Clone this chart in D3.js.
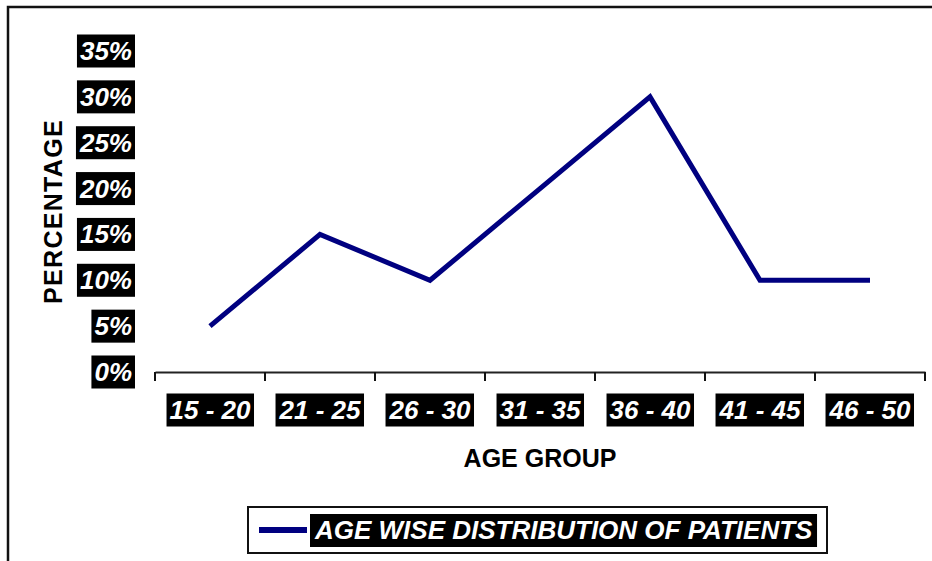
<!DOCTYPE html>
<html><head><meta charset="utf-8">
<script src="https://cdn.jsdelivr.net/npm/d3@7"></script>
<style>body{margin:0;background:#fff}svg{display:block}</style>
</head><body>
<svg id="c" width="932" height="561"></svg>
<script>
const categories = ["15 - 20","21 - 25","26 - 30","31 - 35","36 - 40","41 - 45","46 - 50"];
const values = [0.05, 0.15, 0.10, 0.20, 0.30, 0.10, 0.10];
const yTicks = [0, 0.05, 0.10, 0.15, 0.20, 0.25, 0.30, 0.35];
const seriesName = "AGE WISE DISTRIBUTION OF PATIENTS";
const xTitle = "AGE GROUP";
const yTitle = "PERCENTAGE";

const svg = d3.select("#c");
const FONT = "'Liberation Sans', Arial, sans-serif";

// outer frame
svg.append("rect").attr("x",8).attr("y",7).attr("width",1000).attr("height",1000)
  .attr("fill","none").attr("stroke","#111").attr("stroke-width",2.5);

const x = d3.scaleBand().domain(categories).range([155,925]).padding(0);
const y = d3.scaleLinear().domain([0,0.35]).range([372,51]);

// x axis
const xAxis = d3.axisBottom(x).tickSize(0).tickFormat("");
const gx = svg.append("g").attr("transform","translate(0,372)").call(xAxis);
gx.select(".domain").attr("stroke","#222").attr("stroke-width",2);
const bounds = categories.map(c=>x(c)).concat([x.range()[1]]);
gx.selectAll("line.bt").data(bounds).join("line").attr("class","bt")
  .attr("x1",d=>d).attr("x2",d=>d).attr("y1",0).attr("y2",9)
  .attr("stroke","#111").attr("stroke-width",2);

function boxedLabel(g, text, xPos, yPos, anchor){
  const t = g.append("text").attr("x",xPos).attr("y",yPos)
    .attr("text-anchor",anchor).attr("dominant-baseline","central")
    .attr("font-family",FONT).attr("font-size",26).attr("font-weight","bold")
    .attr("font-style","italic").attr("fill","#fff").text(text);
  const bb = t.node().getBBox();
  g.insert("rect","text").attr("x",bb.x-3).attr("y",yPos-16.5)
    .attr("width",bb.width+6).attr("height",33).attr("fill","#000");
  return t;
}

categories.forEach(c=>{
  boxedLabel(svg.append("g"), c, x(c)+x.bandwidth()/2, 410, "middle");
});

const fmt = d3.format(".0%");
yTicks.forEach(v=>{
  boxedLabel(svg.append("g"), fmt(v), 132, y(v), "end");
});

// axis titles
svg.append("text").attr("x",(x.range()[0]+x.range()[1])/2).attr("y",467)
  .attr("text-anchor","middle").attr("font-family",FONT).attr("font-size",25)
  .attr("font-weight","bold").attr("fill","#000").text(xTitle);
svg.append("text").attr("transform",`translate(62,${(y(0)+y(0.35))/2}) rotate(-90)`)
  .attr("text-anchor","middle").attr("font-family",FONT).attr("font-size",25)
  .attr("font-weight","bold").attr("letter-spacing",1.3).attr("fill","#000").text(yTitle);

// line
const line = d3.line().x((d,i)=>x(categories[i])+x.bandwidth()/2).y(d=>y(d));
svg.append("path").datum(values).attr("d",line).attr("fill","none")
  .attr("stroke","#000080").attr("stroke-width",5).attr("stroke-linejoin","miter");

// legend
const lg = svg.append("g");
lg.append("rect").attr("x",248).attr("y",507).attr("width",579).attr("height",46)
  .attr("fill","#fff").attr("stroke","#111").attr("stroke-width",2);
lg.append("line").attr("x1",259).attr("x2",307).attr("y1",530).attr("y2",530)
  .attr("stroke","#000080").attr("stroke-width",6);
const lt = lg.append("text").attr("x",315).attr("y",530).attr("dominant-baseline","central")
  .attr("font-family",FONT).attr("font-size",26).attr("font-weight","bold")
  .attr("font-style","italic").attr("fill","#fff").text(seriesName);
const lb = lt.node().getBBox();
lg.insert("rect","text").attr("x",lb.x-4).attr("y",514).attr("width",lb.width+8)
  .attr("height",33).attr("fill","#000");
</script>
</body></html>
